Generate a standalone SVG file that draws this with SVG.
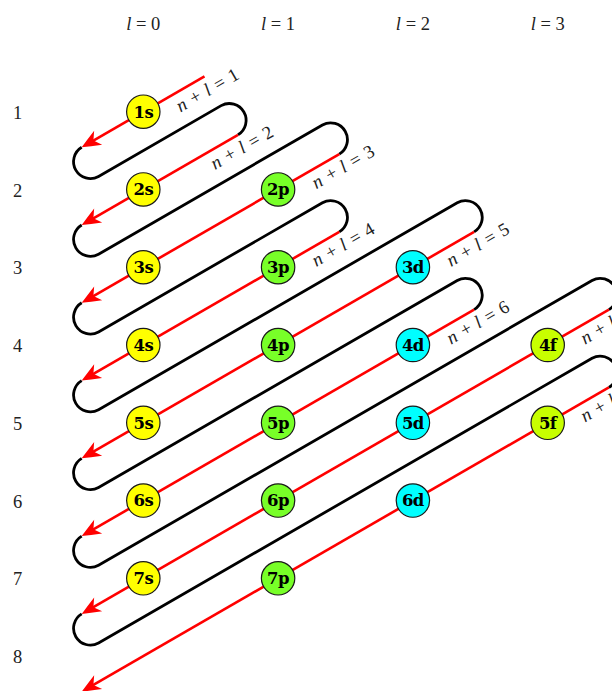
<svg xmlns="http://www.w3.org/2000/svg" width="612" height="691" viewBox="0 0 612 691">
<style>
.blk{fill:none;stroke:#000;stroke-width:2.8}
.red{fill:none;stroke:#ff0000;stroke-width:2.6}
.orb{stroke:#1a1a1a;stroke-width:1.2}
.s{fill:#ffff00}.p{fill:#78ff28}.d{fill:#00ffff}.f{fill:#c8ff00}
.ot{font-family:"DejaVu Serif",serif;font-weight:bold;font-size:16.5px;text-anchor:middle;fill:#000;letter-spacing:-0.5px}
.lab{font-family:"Liberation Serif",serif;font-size:18.5px;fill:#222;text-anchor:middle}
.nl{font-family:"Liberation Serif",serif;font-size:18.5px;fill:#222;text-anchor:middle;word-spacing:1.5px}
.i{font-style:italic}
</style>
<defs>
<marker id="arr" markerUnits="userSpaceOnUse" viewBox="-22 -10 30 20" markerWidth="30" markerHeight="20" refX="-6" refY="0" orient="auto" overflow="visible">
<path d="M0,0 Q-8,-3.5 -19,-8 L-13.5,0 L-19,8 Q-8,3.5 0,0 Z" fill="#ff0000"/>
</marker>
</defs>

<g id="column-labels">
<text class="lab" x="143.3" y="30"><tspan class="i">l</tspan> = 0</text>
<text class="lab" x="278.1" y="30"><tspan class="i">l</tspan> = 1</text>
<text class="lab" x="412.9" y="30"><tspan class="i">l</tspan> = 2</text>
<text class="lab" x="547.7" y="30"><tspan class="i">l</tspan> = 3</text>
</g>
<g id="row-labels">
<text class="lab" x="17.5" y="118.7">1</text>
<text class="lab" x="17.5" y="196.5">2</text>
<text class="lab" x="17.5" y="274.2">3</text>
<text class="lab" x="17.5" y="352">4</text>
<text class="lab" x="17.5" y="429.8">5</text>
<text class="lab" x="17.5" y="507.6">6</text>
<text class="lab" x="17.5" y="585.3">7</text>
<text class="lab" x="17.5" y="663.1">8</text>
</g>

<g id="connectors">
<path class="blk" d="M81.7,147.27 A16.84,16.84 0 0 0 98.54,176.43 L221.16,105.64 A16.84,16.84 0 0 1 238,134.8"/>
<path class="blk" d="M81.7,225.04 A16.84,16.84 0 0 0 98.54,254.2 L322.46,124.94 A16.84,16.84 0 0 1 339.3,154.1"/>
<path class="blk" d="M81.7,302.81 A16.84,16.84 0 0 0 98.54,331.97 L322.46,202.74 A16.84,16.84 0 0 1 339.3,231.9"/>
<path class="blk" d="M81.7,380.58 A16.84,16.84 0 0 0 98.54,409.74 L457.26,202.74 A16.84,16.84 0 0 1 474.1,231.9"/>
<path class="blk" d="M81.7,458.35 A16.84,16.84 0 0 0 98.54,487.51 L457.26,280.44 A16.84,16.84 0 0 1 474.1,309.6"/>
<path class="blk" d="M81.7,536.12 A16.84,16.84 0 0 0 98.54,565.28 L592.06,280.44 A16.84,16.84 0 0 1 608.9,309.6"/>
<path class="blk" d="M81.7,613.89 A16.84,16.84 0 0 0 98.54,643.05 L592.06,358.24 A16.84,16.84 0 0 1 608.9,387.4"/>

<path class="red" marker-end="url(#arr)" d="M204.5,76.35 L86.9,144.27"/>
<path class="red" marker-end="url(#arr)" d="M238,134.8 L86.9,222.04"/>
<path class="red" marker-end="url(#arr)" d="M339.3,154.1 L86.9,299.81"/>
<path class="red" marker-end="url(#arr)" d="M339.3,231.9 L86.9,377.58"/>
<path class="red" marker-end="url(#arr)" d="M474.1,231.9 L86.9,455.35"/>
<path class="red" marker-end="url(#arr)" d="M474.1,309.6 L86.9,533.12"/>
<path class="red" marker-end="url(#arr)" d="M608.9,309.6 L86.9,610.89"/>
<path class="red" marker-end="url(#arr)" d="M608.9,387.4 L86.9,688.66"/>
</g>

<g id="diagonal-labels">
<text class="nl" transform="translate(210.4,95.3) rotate(-30)"><tspan class="i">n</tspan> + <tspan class="i">l</tspan> = 1</text>
<text class="nl" transform="translate(244.9,152.75) rotate(-30)"><tspan class="i">n</tspan> + <tspan class="i">l</tspan> = 2</text>
<text class="nl" transform="translate(346.2,172.05) rotate(-30)"><tspan class="i">n</tspan> + <tspan class="i">l</tspan> = 3</text>
<text class="nl" transform="translate(346.2,249.85) rotate(-30)"><tspan class="i">n</tspan> + <tspan class="i">l</tspan> = 4</text>
<text class="nl" transform="translate(481,249.85) rotate(-30)"><tspan class="i">n</tspan> + <tspan class="i">l</tspan> = 5</text>
<text class="nl" transform="translate(481,327.55) rotate(-30)"><tspan class="i">n</tspan> + <tspan class="i">l</tspan> = 6</text>
<text class="nl" transform="translate(614.8,327.55) rotate(-30)"><tspan class="i">n</tspan> + <tspan class="i">l</tspan> = 7</text>
<text class="nl" transform="translate(614.8,405.35) rotate(-30)"><tspan class="i">n</tspan> + <tspan class="i">l</tspan> = 8</text>
</g>

<g id="o1s"><circle class="orb s" cx="143.3" cy="111.7" r="16.7"/><text class="ot" x="143.3" y="117.6">1s</text></g>
<g id="o2s"><circle class="orb s" cx="143.3" cy="189.47" r="16.7"/><text class="ot" x="143.3" y="195.37">2s</text></g>
<g id="o2p"><circle class="orb p" cx="278.1" cy="189.47" r="16.7"/><text class="ot" x="278.1" y="195.37">2p</text></g>
<g id="o3s"><circle class="orb s" cx="143.3" cy="267.24" r="16.7"/><text class="ot" x="143.3" y="273.14">3s</text></g>
<g id="o3p"><circle class="orb p" cx="278.1" cy="267.24" r="16.7"/><text class="ot" x="278.1" y="273.14">3p</text></g>
<g id="o3d"><circle class="orb d" cx="412.9" cy="267.24" r="16.7"/><text class="ot" x="412.9" y="273.14">3d</text></g>
<g id="o4s"><circle class="orb s" cx="143.3" cy="345.01" r="16.7"/><text class="ot" x="143.3" y="350.91">4s</text></g>
<g id="o4p"><circle class="orb p" cx="278.1" cy="345.01" r="16.7"/><text class="ot" x="278.1" y="350.91">4p</text></g>
<g id="o4d"><circle class="orb d" cx="412.9" cy="345.01" r="16.7"/><text class="ot" x="412.9" y="350.91">4d</text></g>
<g id="o4f"><circle class="orb f" cx="547.7" cy="345.01" r="16.7"/><text class="ot" x="547.7" y="350.91">4f</text></g>
<g id="o5s"><circle class="orb s" cx="143.3" cy="422.78" r="16.7"/><text class="ot" x="143.3" y="428.68">5s</text></g>
<g id="o5p"><circle class="orb p" cx="278.1" cy="422.78" r="16.7"/><text class="ot" x="278.1" y="428.68">5p</text></g>
<g id="o5d"><circle class="orb d" cx="412.9" cy="422.78" r="16.7"/><text class="ot" x="412.9" y="428.68">5d</text></g>
<g id="o5f"><circle class="orb f" cx="547.7" cy="422.78" r="16.7"/><text class="ot" x="547.7" y="428.68">5f</text></g>
<g id="o6s"><circle class="orb s" cx="143.3" cy="500.55" r="16.7"/><text class="ot" x="143.3" y="506.45">6s</text></g>
<g id="o6p"><circle class="orb p" cx="278.1" cy="500.55" r="16.7"/><text class="ot" x="278.1" y="506.45">6p</text></g>
<g id="o6d"><circle class="orb d" cx="412.9" cy="500.55" r="16.7"/><text class="ot" x="412.9" y="506.45">6d</text></g>
<g id="o7s"><circle class="orb s" cx="143.3" cy="578.32" r="16.7"/><text class="ot" x="143.3" y="584.22">7s</text></g>
<g id="o7p"><circle class="orb p" cx="278.1" cy="578.32" r="16.7"/><text class="ot" x="278.1" y="584.22">7p</text></g>
</svg>
